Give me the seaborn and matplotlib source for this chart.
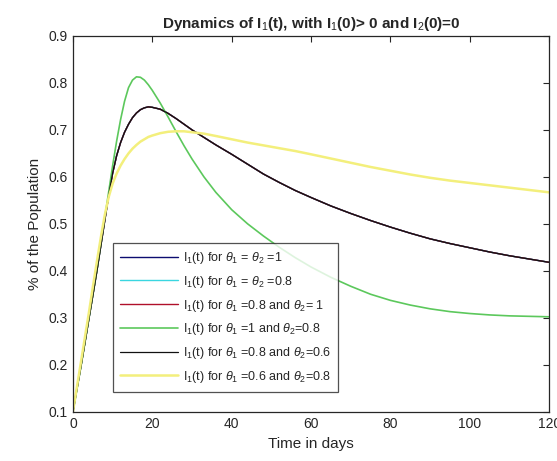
import matplotlib
matplotlib.use("Agg")
import matplotlib.pyplot as plt
import seaborn as sns

days = [0, 1, 2, 3, 4, 5, 6, 7, 8, 9, 10, 11, 12, 13, 14, 15, 16, 17, 18, 19, 20,
        22, 24, 26, 28, 30, 33, 36, 40, 44, 48, 52, 56, 60,
        65, 70, 75, 80, 85, 90, 95, 100, 105, 110, 115, 120]

# theta1=1, theta2=0.8 (green)
green_vals = [0.100, 0.148, 0.196, 0.247, 0.298, 0.349, 0.400, 0.455, 0.512, 0.568, 0.624,
              0.676, 0.722, 0.761, 0.790, 0.806, 0.813, 0.812, 0.806, 0.796, 0.784,
              0.757, 0.727, 0.696, 0.666, 0.638, 0.600, 0.567, 0.530, 0.500, 0.474,
              0.450, 0.428, 0.408,
              0.386, 0.367, 0.350, 0.337, 0.327, 0.319, 0.313, 0.309, 0.306, 0.304,
              0.303, 0.302]
# theta1=0.8, theta2=0.6 (black)
black_vals = [0.100, 0.148, 0.196, 0.246, 0.297, 0.347, 0.398, 0.452, 0.506, 0.560, 0.608,
              0.645, 0.673, 0.695, 0.712, 0.726, 0.736, 0.743, 0.747, 0.749, 0.748,
              0.744, 0.735, 0.724, 0.712, 0.700, 0.684, 0.668, 0.648, 0.627, 0.606,
              0.588, 0.571, 0.556,
              0.538, 0.522, 0.507, 0.493, 0.480, 0.468, 0.458, 0.449, 0.440, 0.432,
              0.425, 0.418]
# theta1=0.6, theta2=0.8 (yellow)
yellow_vals = [0.100, 0.153, 0.205, 0.258, 0.310, 0.365, 0.418, 0.470, 0.518, 0.557, 0.586,
               0.607, 0.624, 0.638, 0.650, 0.660, 0.668, 0.675, 0.680, 0.685, 0.688,
               0.693, 0.696, 0.697, 0.697, 0.695, 0.692, 0.687, 0.680, 0.673, 0.667,
               0.661, 0.655, 0.648,
               0.639, 0.630, 0.621, 0.613, 0.605, 0.598, 0.592, 0.587, 0.582, 0.577,
               0.572, 0.567]
# the other three runs sit underneath the black curve
blue_vals = black_vals
cyan_vals = black_vals
red_vals = black_vals

labels = [
    r"I$_1$(t) for $\theta_1$ = $\theta_2$ =1",
    r"I$_1$(t) for $\theta_1$ = $\theta_2$ =0.8",
    r"I$_1$(t) for $\theta_1$ =0.8 and $\theta_2$= 1",
    r"I$_1$(t) for $\theta_1$ =1 and $\theta_2$=0.8",
    r"I$_1$(t) for $\theta_1$ =0.8 and $\theta_2$=0.6",
    r"I$_1$(t) for $\theta_1$ =0.6 and $\theta_2$=0.8",
]
series = [blue_vals, cyan_vals, red_vals, green_vals, black_vals, yellow_vals]
colors = ["#0c0c70", "#3ad6e0", "#b0102a", "#5cc85c", "#111111", "#f3ef7c"]
widths = [1.0, 1.0, 1.0, 1.2, 0.9, 1.8]

sns.set_style("white")
plt.rcParams["font.family"] = ["Liberation Sans", "DejaVu Sans"]
plt.rcParams["mathtext.fontset"] = "custom"
plt.rcParams["mathtext.rm"] = "Liberation Sans"
plt.rcParams["mathtext.it"] = "Liberation Sans:italic"

fig = plt.figure(figsize=(5.57, 4.61), dpi=100)
ax = fig.add_axes([0.131, 0.107, 0.855, 0.815])

for vals, lab, c, lw in zip(series, labels, colors, widths):
    sns.lineplot(x=days, y=vals, color=c, linewidth=lw, label=lab, ax=ax)

ax.set_xlim(0, 120)
ax.set_ylim(0.1, 0.9)
ax.set_xticks(range(0, 121, 20))
ax.set_yticks([0.1, 0.2, 0.3, 0.4, 0.5, 0.6, 0.7, 0.8, 0.9])
ax.set_yticklabels(["0.1", "0.2", "0.3", "0.4", "0.5", "0.6", "0.7", "0.8", "0.9"])
ax.tick_params(direction="in", length=4, width=0.8, top=True, right=True,
               labelsize=10, colors="#262626", pad=4)
for sp in ax.spines.values():
    sp.set_color("#262626")
    sp.set_linewidth(0.9)

ax.set_xlabel("Time in days", fontsize=11, color="#262626")
ax.set_ylabel("% of the Population", fontsize=11, color="#262626")
ax.set_title(r"Dynamics of I$_1$(t), with I$_1$(0)> 0 and I$_2$(0)=0",
             fontsize=11, fontweight="bold", pad=6)

leg = ax.legend(loc="lower left", bbox_to_anchor=(0.07, 0.035), fontsize=9,
                frameon=True, fancybox=False, handlelength=4.6, labelspacing=0.62,
                borderpad=0.6, handletextpad=0.4)
leg.get_frame().set_edgecolor("#262626")
leg.get_frame().set_linewidth(0.9)

fig.savefig("out.png", dpi=100, facecolor="white")
